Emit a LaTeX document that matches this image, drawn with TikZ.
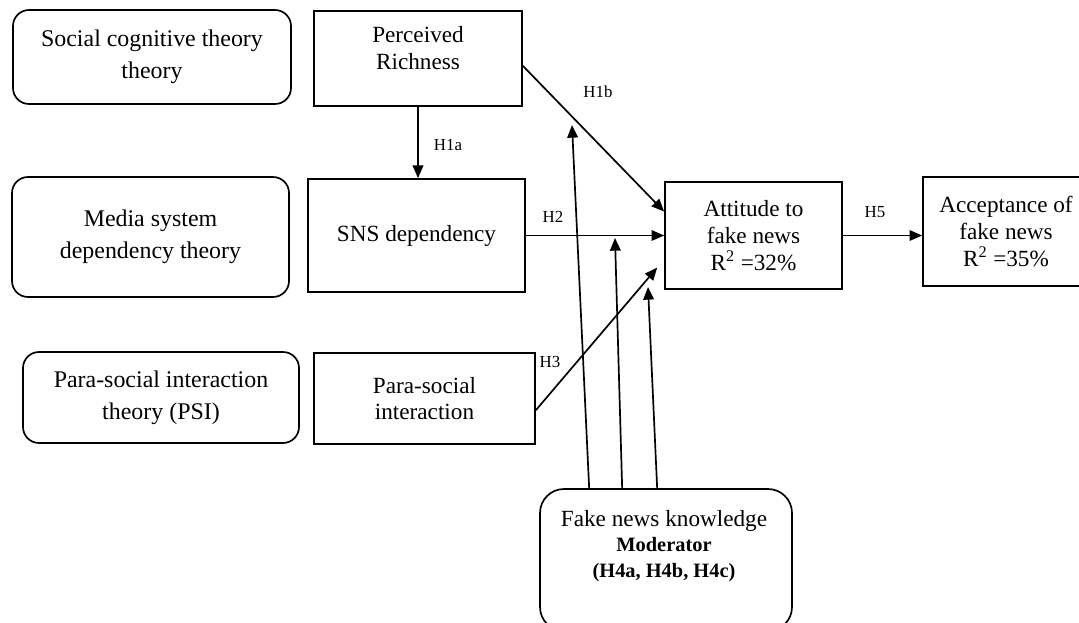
\documentclass[tikz,border=0pt]{standalone}
\usepackage{fontspec}
\setmainfont{Liberation Serif}
\usetikzlibrary{arrows.meta,calc}

\begin{document}
\begin{tikzpicture}[x=0.025cm, y=-0.025cm,
	txt/.style={align=center, font=\fontsize{16.5}{19}\selectfont},
	theory/.style={draw, line width=1.2pt, rounded corners=0.4cm, align=center, font=\fontsize{17}{22.5}\selectfont},
	construct/.style={txt, draw, line width=1.2pt},
	hyp/.style={font=\fontsize{12}{14}\selectfont},
	arr/.style={line width=1.2pt, -{Triangle[length=9pt, width=7.5pt]}}]

\def\pxl{0.025cm}

\useasboundingbox (0,0) rectangle (1079,623);

% THEORIES
\node (scog) [theory, minimum width=278*\pxl, minimum height=94*\pxl] at (152,57) {Social cognitive theory\\theory};
\node (msd) [theory, minimum width=277*\pxl, minimum height=120*\pxl] at (150.5,237) {Media system\\dependency theory};
\node (psit) [theory, minimum width=276*\pxl, minimum height=91*\pxl] at (161,397.5) {Para-social interaction\\theory (PSI)};

% CONSTRUCTS
\node (rich) [construct, minimum width=208*\pxl, minimum height=95*\pxl] at (418,58.5) {};
\node (richtext) [txt] at (418,48) {Perceived\\Richness};
\node (sns) [construct, minimum width=217*\pxl, minimum height=113*\pxl] at (416.5,235.5) {SNS dependency};
\node (psi) [construct, minimum width=221*\pxl, minimum height=91*\pxl] at (424.5,398.5) {Para-social\\interaction};
\node (att) [construct, minimum width=177*\pxl, minimum height=107*\pxl] at (753.5,235.5) {Attitude to\\fake news\\R\textsuperscript{2} =32\%};
\node (acc) [construct, minimum width=166*\pxl, minimum height=109*\pxl] at (1006,231.5) {Acceptance of\\fake news\\R\textsuperscript{2} =35\%};

% MODERATOR
\node (mod) [draw, line width=1.2pt, rounded corners=0.6cm, minimum width=252*\pxl, minimum height=142*\pxl] at (666,560) {};
\node (modtext) [txt, font=\fontsize{16.5}{18}\selectfont] at (664,546) {Fake news knowledge\\{\fontsize{14.5}{18}\selectfont\bfseries Moderator}\\{\fontsize{14.5}{18}\selectfont\bfseries (H4a, H4b, H4c)}};

% PATHS
\draw [arr] (rich.south) -- (rich.south |- sns.north);
\draw [arr] (rich.-4) -- (att.165);
\draw [arr] (sns.east) -- (att.west);
\draw [arr, shorten >=7.6pt] (psi.-6) -- (att.195);
\draw [arr] (att.east) -- (att.east -| acc.west);

\coordinate (m1) at (572,125);
\coordinate (m2) at (615,238);
\coordinate (m3) at (648,287);
\draw [arr] ($(mod.north west)+(50,0)$) -- (m1);
\draw [arr] ($(mod.north west)+(83,0)$) -- (m2);
\draw [arr] ($(mod.north west)+(118,0)$) -- (m3);

% LABELS
\node (lh1a) [hyp] at (448,145) {H1a};
\node (lh1b) [hyp] at (598,92) {H1b};
\node (lh2) [hyp] at (553,217) {H2};
\node (lh3) [hyp] at (550,362) {H3};
\node (lh5) [hyp] at (875,212) {H5};

\end{tikzpicture}
\end{document}
